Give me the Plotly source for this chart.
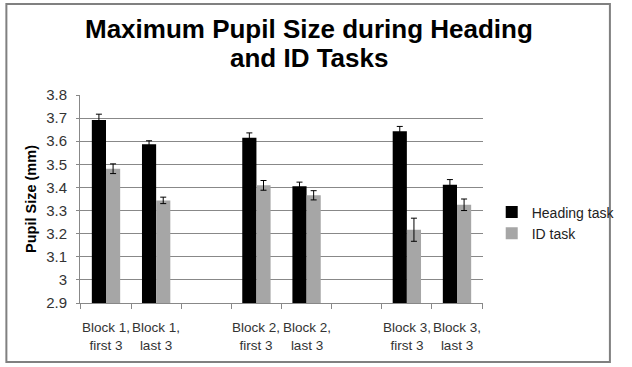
import plotly.graph_objects as go

categories = ["Block 1, first 3", "Block 1, last 3", " ",
              "Block 2, first 3", "Block 2, last 3", "  ",
              "Block 3, first 3", "Block 3, last 3"]
label_line1 = ["Block 1,", "Block 1,", "", "Block 2,", "Block 2,", "", "Block 3,", "Block 3,"]
label_line2 = ["first 3", "last 3", "", "first 3", "last 3", "", "first 3", "last 3"]
heading = [3.692, 3.587, None, 3.615, 3.405, None, 3.643, 3.412]
heading_err = [0.025, 0.015, None, 0.021, 0.018, None, 0.021, 0.022]
id_task = [3.481, 3.344, None, 3.409, 3.366, None, 3.217, 3.325]
id_err = [0.021, 0.014, None, 0.021, 0.020, None, 0.050, 0.025]
y_ticks = [2.9, 3.0, 3.1, 3.2, 3.3, 3.4, 3.5, 3.6, 3.7, 3.8]
y_labels = ["2.9", "3", "3.1", "3.2", "3.3", "3.4", "3.5", "3.6", "3.7", "3.8"]
title_lines = ["Maximum Pupil Size during Heading", "and ID Tasks"]

FONT = "Liberation Sans, Arial, sans-serif"

fig = go.Figure()
fig.add_trace(go.Bar(x=categories, y=heading, name="Heading task", legendgroup="a",
                     marker=dict(color="#000000", line=dict(width=0)),
                     error_y=dict(type="data", array=heading_err, color="#000000",
                                  thickness=1, width=3)))
fig.add_trace(go.Bar(x=categories, y=id_task, name="ID task", legendgroup="b",
                     marker=dict(color="#a6a6a6", line=dict(width=0)),
                     error_y=dict(type="data", array=id_err, color="#000000",
                                  thickness=1, width=3)))

L, R, T, B = 80, 136, 95, 64
W, H = 632, 367
pw, ph = W - L - R, H - T - B

def px2paper_x(px):
    return (px - L) / pw

def px2paper_y(py):
    return (H - B - py) / ph

fig.update_layout(
    width=W, height=H,
    margin=dict(l=L, r=R, t=T, b=B),
    paper_bgcolor="white", plot_bgcolor="white",
    font=dict(family=FONT, size=14, color="#333333"),
    barmode="group", bargap=0.435, bargroupgap=0,
    legend=dict(x=px2paper_x(505), y=px2paper_y(223), xanchor="left", yanchor="middle",
                font=dict(size=14, color="#222222"), tracegroupgap=13,
                traceorder="normal", bgcolor="rgba(0,0,0,0)"),
    showlegend=True,
)

# title as two tightly spaced lines
for i, line in enumerate(title_lines):
    fig.add_annotation(text="<b>%s</b>" % line, xref="paper", yref="paper",
                       x=px2paper_x(316), y=px2paper_y(29 + 29 * i),
                       xanchor="center", yanchor="middle", showarrow=False,
                       font=dict(family=FONT, size=26, color="#000000"))

# category labels (two lines each)
for cat, l1, l2 in zip(categories, label_line1, label_line2):
    if l1:
        fig.add_annotation(text=l1 + "<br>" + l2, x=cat, xref="x", yref="paper",
                           y=px2paper_y(336), xanchor="center", yanchor="middle",
                           showarrow=False,
                           font=dict(family=FONT, size=13.5, color="#333333"))

fig.update_xaxes(type="category", categoryorder="array", categoryarray=categories,
                 showline=True, linecolor="#888888", linewidth=1,
                 ticks="outside", tickson="boundaries", ticklen=5, tickcolor="#888888",
                 showgrid=False, showticklabels=False)
fig.update_yaxes(range=[2.9, 3.8], tickvals=y_ticks, ticktext=y_labels,
                 showline=True, linecolor="#888888", linewidth=1,
                 ticks="outside", ticklen=3, tickcolor="#888888", ticklabelstandoff=6,
                 showgrid=True, gridcolor="#888888", gridwidth=1, zeroline=False,
                 tickfont=dict(size=15, color="#333333"),
                 title=dict(text="<b>Pupil Size (mm)</b>", standoff=6,
                            font=dict(size=14.5, color="#000000")))

fig.add_shape(type="rect", xref="paper", yref="paper",
              x0=px2paper_x(4), x1=px2paper_x(627), y0=px2paper_y(362), y1=px2paper_y(4),
              line=dict(color="#808080", width=2), fillcolor="rgba(0,0,0,0)", layer="below")

fig.write_html("out.html", config={"displayModeBar": False},
               post_script="document.body.style.margin='0';document.body.style.overflow='hidden';")
